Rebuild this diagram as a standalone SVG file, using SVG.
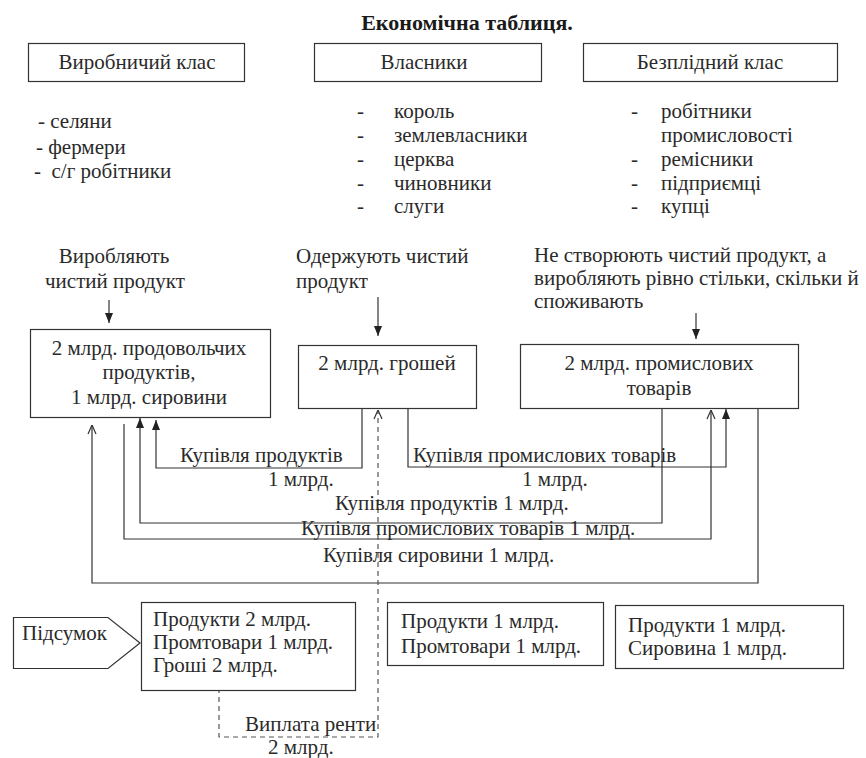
<svg xmlns="http://www.w3.org/2000/svg" width="866" height="758" viewBox="0 0 866 758">
<defs>
  <marker id="fill" viewBox="0 0 10 10" refX="10" refY="5" markerWidth="10" markerHeight="10" markerUnits="userSpaceOnUse" orient="auto">
    <path d="M0,1 L10,5 L0,9 Z" fill="#222222"/>
  </marker>
  <marker id="open" viewBox="0 0 10 10" refX="10" refY="5" markerWidth="10" markerHeight="10" markerUnits="userSpaceOnUse" orient="auto">
    <path d="M1,1 L10,5 L1,9" fill="none" stroke="#333333" stroke-width="1.2"/>
  </marker>
</defs>
<rect width="866" height="758" fill="#ffffff"/>

<text x="467" y="30" text-anchor="middle" font-family="'Liberation Serif', serif" font-size="22" font-weight="bold" fill="#1a1a1a">Економічна таблиця.</text>

<g id="class-productive" font-size="21" fill="#2a2a2a">
  <rect x="28.5" y="43.5" width="216" height="38" fill="#ffffff" stroke="#333333" stroke-width="1.2"/>
  <text x="137" y="69" text-anchor="middle" font-family="'Liberation Serif', serif">Виробничий клас</text>
  <text x="38" y="128" font-family="'Liberation Serif', serif">- селяни</text>
  <text x="36" y="154" font-family="'Liberation Serif', serif">- фермери</text>
  <text x="34" y="178" font-family="'Liberation Serif', serif" xml:space="preserve">-  с/г робітники</text>
</g>

<g id="class-owners" font-size="21" fill="#2a2a2a">
  <rect x="314.5" y="43.5" width="227" height="38" fill="#ffffff" stroke="#333333" stroke-width="1.2"/>
  <text x="424" y="69" text-anchor="middle" font-family="'Liberation Serif', serif">Власники</text>
  <text x="357" y="118" font-family="'Liberation Serif', serif">-</text>
  <text x="394" y="118" font-family="'Liberation Serif', serif">король</text>
  <text x="357" y="142" font-family="'Liberation Serif', serif">-</text>
  <text x="394" y="142" font-family="'Liberation Serif', serif">землевласники</text>
  <text x="357" y="166" font-family="'Liberation Serif', serif">-</text>
  <text x="394" y="166" font-family="'Liberation Serif', serif">церква</text>
  <text x="357" y="190" font-family="'Liberation Serif', serif">-</text>
  <text x="394" y="190" font-family="'Liberation Serif', serif">чиновники</text>
  <text x="357" y="213" font-family="'Liberation Serif', serif">-</text>
  <text x="394" y="213" font-family="'Liberation Serif', serif">слуги</text>
</g>

<g id="class-sterile" font-size="21" fill="#2a2a2a">
  <rect x="583.5" y="43.5" width="254" height="38" fill="#ffffff" stroke="#333333" stroke-width="1.2"/>
  <text x="710" y="69" text-anchor="middle" font-family="'Liberation Serif', serif">Безплідний клас</text>
  <text x="631" y="118" font-family="'Liberation Serif', serif">-</text>
  <text x="661" y="118" font-family="'Liberation Serif', serif">робітники</text>
  <text x="661" y="142" font-family="'Liberation Serif', serif">промисловості</text>
  <text x="631" y="166" font-family="'Liberation Serif', serif">-</text>
  <text x="661" y="166" font-family="'Liberation Serif', serif">ремісники</text>
  <text x="631" y="190" font-family="'Liberation Serif', serif">-</text>
  <text x="661" y="190" font-family="'Liberation Serif', serif">підприємці</text>
  <text x="631" y="213" font-family="'Liberation Serif', serif">-</text>
  <text x="661" y="213" font-family="'Liberation Serif', serif">купці</text>
</g>

<g id="label-produce" font-size="21" fill="#2a2a2a">
  <text x="114" y="263" text-anchor="middle" font-family="'Liberation Serif', serif">Виробляють</text>
  <text x="115" y="288" text-anchor="middle" font-family="'Liberation Serif', serif">чистий продукт</text>
</g>
<g id="label-receive" font-size="21" fill="#2a2a2a">
  <text x="296" y="263" font-family="'Liberation Serif', serif">Одержують чистий</text>
  <text x="296" y="288" font-family="'Liberation Serif', serif">продукт</text>
</g>
<g id="label-sterile" font-size="21" fill="#2a2a2a">
  <text x="534" y="262" font-family="'Liberation Serif', serif">Не створюють чистий продукт, а</text>
  <text x="534" y="285" font-family="'Liberation Serif', serif">виробляють рівно стільки, скільки й</text>
  <text x="534" y="308" font-family="'Liberation Serif', serif">споживають</text>
</g>

<g id="box-food" font-size="21" fill="#2a2a2a">
  <rect x="30.5" y="329.5" width="240" height="88" fill="#ffffff" stroke="#333333" stroke-width="1.2"/>
  <text x="149" y="355" text-anchor="middle" font-family="'Liberation Serif', serif">2 млрд. продовольчих</text>
  <text x="149" y="379" text-anchor="middle" font-family="'Liberation Serif', serif">продуктів,</text>
  <text x="149" y="404" text-anchor="middle" font-family="'Liberation Serif', serif">1 млрд. сировини</text>
</g>

<g id="box-money" font-size="21" fill="#2a2a2a">
  <rect x="298.5" y="345.5" width="178" height="63" fill="#ffffff" stroke="#333333" stroke-width="1.2"/>
  <text x="387" y="370" text-anchor="middle" font-family="'Liberation Serif', serif">2 млрд. грошей</text>
</g>

<g id="box-goods" font-size="21" fill="#2a2a2a">
  <rect x="520.5" y="344.5" width="278" height="64" fill="#ffffff" stroke="#333333" stroke-width="1.2"/>
  <text x="659" y="370" text-anchor="middle" font-family="'Liberation Serif', serif">2 млрд. промислових</text>
  <text x="659" y="395" text-anchor="middle" font-family="'Liberation Serif', serif">товарів</text>
</g>

<g id="connectors" fill="none" stroke="#333333" stroke-width="1.2">
  <line x1="109" y1="300" x2="109" y2="323" marker-end="url(#fill)"/>
  <line x1="378" y1="297" x2="378" y2="336" marker-end="url(#fill)"/>
  <line x1="696" y1="313" x2="696" y2="339" marker-end="url(#fill)"/>

  <polyline points="758,408.5 758,583 92,583 92,425" marker-end="url(#open)"/>
  <polyline points="124,424 124,539 711,539 711,410" marker-end="url(#open)"/>
  <polyline points="662,408.5 662,523 140,523 140,418" marker-end="url(#fill)"/>
  <polyline points="362,408.5 362,468 156,468 156,420" marker-end="url(#fill)"/>
  <polyline points="408,408.5 408,467 726,467 726,409" marker-end="url(#fill)"/>
  <polyline points="219,688 219,737 378,737 378,410" stroke="#555555" stroke-dasharray="5 4" marker-end="url(#open)"/>
</g>

<g id="connector-labels" font-size="21" fill="#2a2a2a">
  <text x="180" y="462" font-family="'Liberation Serif', serif">Купівля продуктів</text>
  <text x="268" y="486" font-family="'Liberation Serif', serif">1 млрд.</text>
  <text x="413" y="462" font-family="'Liberation Serif', serif">Купівля промислових товарів</text>
  <text x="522" y="486" font-family="'Liberation Serif', serif">1 млрд.</text>
  <text x="335" y="510" font-family="'Liberation Serif', serif">Купівля продуктів 1 млрд.</text>
  <text x="301" y="535" font-family="'Liberation Serif', serif">Купівля промислових товарів 1 млрд.</text>
  <text x="323" y="562" font-family="'Liberation Serif', serif">Купівля сировини 1 млрд.</text>
  <text x="245" y="731" font-family="'Liberation Serif', serif">Виплата ренти</text>
  <text x="268" y="754" font-family="'Liberation Serif', serif">2 млрд.</text>
</g>

<g id="summary-tag" font-size="21" fill="#2a2a2a">
  <polygon points="13.5,617.5 108,617.5 140,643 108,668.5 13.5,668.5" fill="#ffffff" stroke="#333333" stroke-width="1.2"/>
  <text x="22" y="640" font-family="'Liberation Serif', serif">Підсумок</text>
</g>

<g id="summary-productive" font-size="21" fill="#2a2a2a">
  <rect x="141.5" y="602.5" width="214" height="88" fill="#ffffff" stroke="#333333" stroke-width="1.2"/>
  <text x="153" y="626" font-family="'Liberation Serif', serif">Продукти 2 млрд.</text>
  <text x="153" y="649" font-family="'Liberation Serif', serif">Промтовари 1 млрд.</text>
  <text x="153" y="672" font-family="'Liberation Serif', serif">Гроші 2 млрд.</text>
</g>

<g id="summary-owners" font-size="21" fill="#2a2a2a">
  <rect x="387.5" y="602.5" width="216" height="63" fill="#ffffff" stroke="#333333" stroke-width="1.2"/>
  <text x="401" y="628" font-family="'Liberation Serif', serif">Продукти 1 млрд.</text>
  <text x="401" y="653" font-family="'Liberation Serif', serif">Промтовари 1 млрд.</text>
</g>

<g id="summary-sterile" font-size="21" fill="#2a2a2a">
  <rect x="615.5" y="605.5" width="228" height="63" fill="#ffffff" stroke="#333333" stroke-width="1.2"/>
  <text x="628" y="632" font-family="'Liberation Serif', serif">Продукти 1 млрд.</text>
  <text x="628" y="655" font-family="'Liberation Serif', serif">Сировина 1 млрд.</text>
</g>
</svg>
